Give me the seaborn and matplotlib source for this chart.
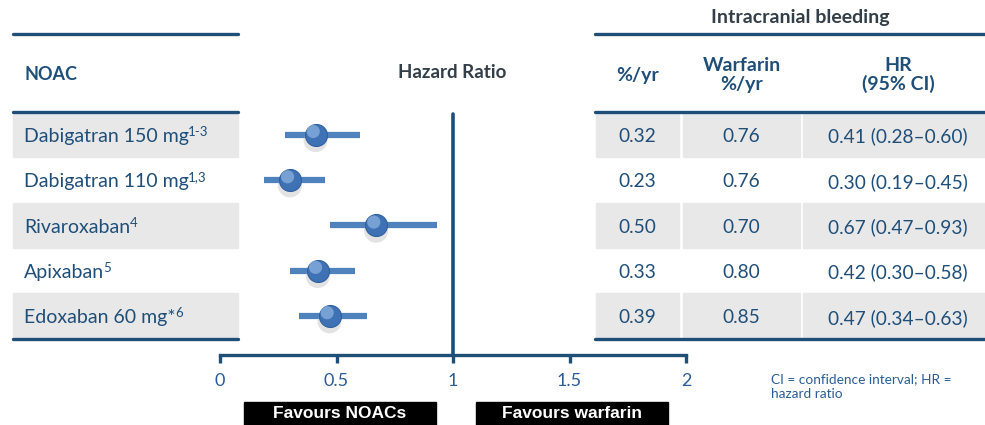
import numpy as np
import pandas as pd
import matplotlib
matplotlib.use('Agg')
import matplotlib.pyplot as plt
from matplotlib.patches import Rectangle
from matplotlib.text import Annotation
import seaborn as sns

# data
drugs = ['Dabigatran 150 mg', 'Dabigatran 110 mg', 'Rivaroxaban', 'Apixaban', 'Edoxaban 60 mg*']
refs = ['1-3', '1,3', '4', '5', '6']
noac_rate = [0.32, 0.23, 0.50, 0.33, 0.39]
warf_rate = [0.76, 0.76, 0.70, 0.80, 0.85]
hr = [0.41, 0.30, 0.67, 0.42, 0.47]
ci_lo = [0.28, 0.19, 0.47, 0.30, 0.34]
ci_hi = [0.60, 0.45, 0.93, 0.58, 0.63]
x_ticks = [0, 0.5, 1, 1.5, 2]
x_tick_labels = ['0', '0.5', '1', '1.5', '2']

df = pd.DataFrame({'drug': drugs, 'row': range(len(drugs)), 'hr': hr,
                   'lo': ci_lo, 'hi': ci_hi})

sns.set_theme(style='white')
plt.rcParams['font.family'] = ['Lato', 'DejaVu Sans']

NAVY = '#1F4E79'
BLUE = '#2A5C96'
GREY = '#E8E8E8'
DARK = '#333F48'
W, H = 985, 425


def fx(px):
    return px / W


def fy(py):
    return 1 - py / H


fig = plt.figure(figsize=(9.85, 4.25), dpi=100)

# table geometry (pixels)
row_top = 112
row_h = 45.3
n = len(drugs)


def row_c(i):
    return row_top + row_h * (i + 0.5)


# forest plot axes
ax = fig.add_axes([fx(220), fy(355), fx(686 - 220), (355 - row_top) / H])
ax.set_facecolor('none')
ax.set_xlim(0, 2)
ax.set_ylim((355 - row_top) / row_h - 0.5, -0.5)
ax.hlines(df['row'], df['lo'], df['hi'], color='#4F81BD', lw=4.5, zorder=2)
ax.axvline(1, color=NAVY, lw=2.6, ymin=0, ymax=0.99, zorder=1)
# shadow, sphere and highlight
sns.scatterplot(data=df, x='hr', y=df['row'] + 0.12, ax=ax, s=300, color='#B0B0B0', alpha=0.35,
                edgecolor='none', legend=False, zorder=3, clip_on=False)
sns.scatterplot(data=df, x='hr', y='row', ax=ax, s=250, color='#3F72B5', edgecolor='#2F5F9E',
                linewidth=0.8, legend=False, zorder=4, clip_on=False)
sns.scatterplot(data=df, x=df['hr'] - 0.01, y=df['row'] - 0.07, ax=ax, s=90, color='#8FB4E3',
                alpha=0.7, edgecolor='none', legend=False, zorder=5, clip_on=False)
ax.set_xticks(x_ticks)
ax.set_xticklabels(x_tick_labels)
ax.set_yticks([])
ax.set_xlabel('')
ax.set_ylabel('')
for side in ['left', 'top', 'right']:
    ax.spines[side].set_visible(False)
ax.spines['bottom'].set_color(NAVY)
ax.spines['bottom'].set_linewidth(2.4)
ax.tick_params(axis='x', direction='out', length=6, width=2.4, color=NAVY, labelcolor=BLUE,
               labelsize=13, pad=7, bottom=True)
fig.text(fx(452), fy(72), 'Hazard Ratio', fontsize=13.5, fontweight='bold', color=DARK,
         ha='center', va='center')

# left table
for i in range(n):
    if i % 2 == 0:
        fig.patches.append(Rectangle((fx(13), fy(row_top + row_h * (i + 1))), fx(225), row_h / H,
                                     transform=fig.transFigure, color=GREY, zorder=-1))
    t = fig.text(fx(24), fy(row_c(i) + 2), drugs[i], fontsize=14, color=NAVY, va='center', ha='left')
    fig.add_artist(Annotation(refs[i], xy=(1.0, 0.42), xycoords=t, xytext=(-0.5, 0),
                              textcoords='offset points', fontsize=9.5, color=NAVY,
                              va='bottom', ha='left', annotation_clip=False))
for py in [34, 112, 339]:
    fig.add_artist(plt.Line2D([fx(13), fx(238)], [fy(py), fy(py)], color=NAVY, lw=2.4))
fig.text(fx(24), fy(74), 'NOAC', fontsize=13, fontweight='bold', color=NAVY, va='center')

# right table
col_edges = [(596, 679), (683, 800), (803, 985)]
for i in range(n):
    if i % 2 == 0:
        for a, b in col_edges:
            fig.patches.append(Rectangle((fx(a), fy(row_top + row_h * (i + 1))), fx(b - a), row_h / H,
                                         transform=fig.transFigure, color=GREY, zorder=-1))
    cells = ['%.2f' % noac_rate[i], '%.2f' % warf_rate[i],
             '%.2f (%.2f\u2013%.2f)' % (hr[i], ci_lo[i], ci_hi[i])]
    for (a, b), s in zip(col_edges, cells):
        fig.text(fx((a + b) / 2 + (4 if b == 985 else 0)), fy(row_c(i) + 2), s, fontsize=13.8,
                 color=NAVY, ha='center', va='center')
for py in [34, 112, 339]:
    fig.add_artist(plt.Line2D([fx(595), fx(985)], [fy(py), fy(py)], color=NAVY, lw=2.4))
fig.text(fx(800), fy(18), 'Intracranial bleeding', fontsize=14, fontweight='bold', color=DARK,
         ha='center', va='center')
fig.text(fx(638), fy(75), '%/yr', fontsize=14, fontweight='bold', color=NAVY, ha='center', va='center')
fig.text(fx(742), fy(75), 'Warfarin\n%/yr', fontsize=14, fontweight='bold', color=NAVY,
         ha='center', va='center', linespacing=1.1)
fig.text(fx(898), fy(75), 'HR\n(95% CI)', fontsize=14, fontweight='bold', color=NAVY,
         ha='center', va='center', linespacing=1.1)

# favours boxes
for (a, b), s in zip([(244, 436), (476, 668)], ['Favours NOACs', 'Favours warfarin']):
    fig.patches.append(Rectangle((fx(a), 0), fx(b - a), fy(402), transform=fig.transFigure,
                                 color='black', zorder=-1))
    fig.text(fx((a + b) / 2), fy(413), s, fontsize=12.5, fontweight='bold', color='white',
             family='Liberation Sans', ha='center', va='center')

fig.text(fx(771), fy(387), 'CI = confidence interval; HR =\nhazard ratio', fontsize=9.8,
         color=BLUE, ha='left', va='center', linespacing=1.3)

fig.savefig('out.png', dpi=100)
